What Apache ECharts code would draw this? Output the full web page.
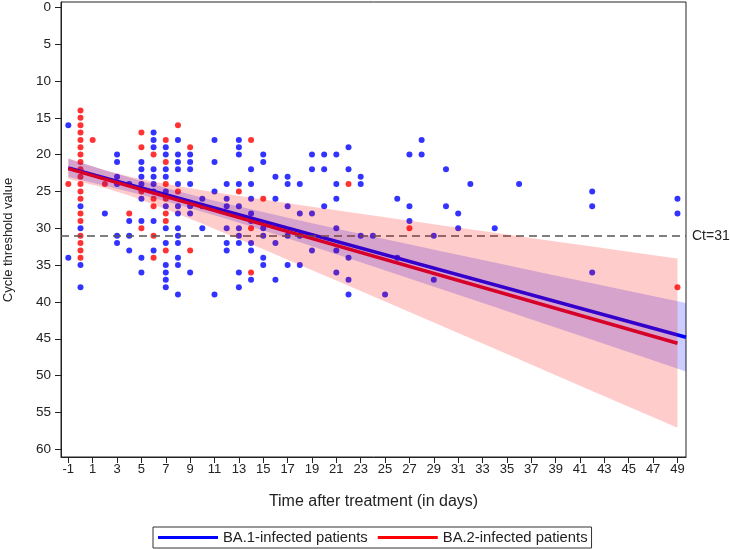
<!DOCTYPE html>
<html><head><meta charset="utf-8">
<script src="https://cdn.jsdelivr.net/npm/echarts@6/dist/echarts.min.js"></script>
<style>html,body{margin:0;padding:0;background:#fff}#c{width:730px;height:549px}</style>
</head><body><div id="c"></div>
<script>
// ---- data ----
const xTicks = [-1,1,3,5,7,9,11,13,15,17,19,21,23,25,27,29,31,33,35,37,39,41,43,45,47,49];
const yTicks = [0,5,10,15,20,25,30,35,40,45,50,55,60];
const ctThreshold = 31;

// [day, [Ct values]]
const ba1ByDay = [
  [-1,[16,34]],[0,[27,30,35,38]],[2,[28]],[3,[20,21,23,24,31,32]],[4,[24,29,31,33]],
  [5,[21,22,23,24,26,29,34,36]],[6,[17,18,19,22,23,24,25,29,33]],
  [7,[19,20,22,23,25,27,30,32,35,36,37,38]],[8,[18,20,21,22,24,27,28,30,31,32,34,35,39]],
  [9,[20,21,22,24,27,28,36]],[10,[26,27,30]],[11,[18,21,25,39]],[12,[24,26,27,30,32,33]],
  [13,[18,19,20,24,27,30,31,32,36,38]],[14,[22,24,26,28,29,32,33,37]],[15,[20,21,30,31,34,35]],
  [16,[23,26,32,37]],[17,[23,24,27,31,35]],[18,[24,28,31,35]],[19,[20,22,28,33]],[20,[20,22,27]],
  [21,[20,24,26,30,33,36]],[22,[19,22,34,37,39]],[23,[23,24,31]],[24,[31]],[25,[39]],[26,[26,34]],
  [27,[20,27,29]],[28,[18,20]],[29,[31,37]],[30,[22,27]],[31,[28,30]],[32,[24]],[34,[30]],
  [36,[24]],[42,[25,27,36]],[49,[26,28]]
];
const ba2ByDay = [
  [-1,[24]],[0,[14,15,16,17,18,19,20,21,22,23,24,25,26,28,29,31,32,33,34]],[1,[18]],[2,[24]],
  [4,[28]],[5,[17,19,25,30]],[6,[20,26,27,31,34]],[7,[18,21,24,26,28,29,33]],[8,[16,25]],
  [9,[19,33]],[13,[25]],[14,[18,30,36]],[15,[26]],[22,[24]],[27,[30]],[49,[38]]
];

// fitted regression lines [day, Ct]
const ba1Fit = [[-1,21.80],[49.7,44.79]];
const ba2Fit = [[-1,21.90],[49,45.60]];

// confidence bands [day, lower, upper]
const ba1Band = [
  [-1,20.56,23.04],[2,22.11,24.21],[5,23.59,25.44],[8,24.97,26.79],[11,26.25,28.24],
  [14,27.43,29.77],[18,28.93,31.89],[22,30.39,34.07],[26,31.82,36.26],[30,33.24,38.47],
  [34,34.65,40.69],[38,36.06,42.92],[42,37.46,45.14],[46,38.86,47.38],[49.7,40.14,49.44]
];
const ba2Band = [
  [-1,20.50,23.30],[0,21.08,23.67],[2,22.12,24.52],[4,22.97,25.56],[6,23.67,26.76],
  [8,24.27,28.05],[10,24.83,29.40],[12,25.35,30.77],[15,26.10,32.86],[18,26.83,34.97],
  [21,27.55,37.09],[24,28.27,39.23],[27,28.98,41.37],[30,29.68,43.50],[33,30.38,45.64],
  [36,31.08,47.78],[39,31.79,49.94],[42,32.48,52.08],[45,33.18,54.22],[49,34.11,57.09]
];

// ---- build ----
function flatten(byDay){ const out=[]; byDay.forEach(([d,vals])=>vals.forEach(v=>out.push([d,v]))); return out; }
const FONT = "Arial, 'Liberation Sans', sans-serif";
const TXT = '#222';

function bandSeries(id, band, fill, z){
  return {
    type:'custom', id:id, z:z, silent:true, data:band,
    encode:{x:0, y:[1,2]},
    renderItem:function(params, api){
      if (params.dataIndex !== 0) return null;
      const up = band.map(d=>api.coord([d[0], d[2]]));
      const lo = band.slice().reverse().map(d=>api.coord([d[0], d[1]]));
      return {type:'polygon', shape:{points:up.concat(lo)}, style:{fill:fill}};
    }
  };
}

const chart = echarts.init(document.getElementById('c'), null, {renderer:'canvas'});
chart.setOption({
  animation:false,
  backgroundColor:'#fff',
  textStyle:{fontFamily:FONT},
  grid:{left:61, right:44, top:2, bottom:92, containLabel:false, outerBoundsMode:'none',
    show:true, borderColor:'#222', borderWidth:1, backgroundColor:'transparent'},
  graphic:[{
    type:'text', x:8, y:240, rotation:Math.PI/2, silent:true,
    style:{text:'Cycle threshold value', fontSize:13, fill:TXT, fontFamily:FONT, align:'center', verticalAlign:'middle'}
  }],
  legend:{
    left:153, top:527, orient:'horizontal', selectedMode:false,
    data:['BA.1-infected patients','BA.2-infected patients'],
    icon:'rect', itemWidth:60, itemHeight:3, itemGap:10,
    borderColor:'#333', borderWidth:1, padding:[3,4,3,5],
    textStyle:{fontSize:14.8, color:TXT, fontFamily:FONT}
  },
  xAxis:{
    type:'value', min:-1.6, max:49.7,
    name:'Time after treatment (in days)', nameLocation:'middle', nameGap:37,
    nameTextStyle:{fontSize:16, color:TXT, fontFamily:FONT},
    axisLine:{show:true, onZero:false, lineStyle:{color:'#222', width:1}},
    axisTick:{show:true, customValues:xTicks, length:6, lineStyle:{color:'#222'}},
    axisLabel:{customValues:xTicks, fontSize:13, color:TXT, margin:6, fontFamily:FONT},
    splitLine:{show:false}
  },
  yAxis:{
    type:'value', inverse:true, min:-0.72, max:61.05,
    axisLine:{show:true, onZero:false, lineStyle:{color:'#222', width:1}},
    axisTick:{show:true, customValues:yTicks, length:6, lineStyle:{color:'#222'}},
    axisLabel:{customValues:yTicks, fontSize:13.5, color:TXT, margin:10, fontFamily:FONT},
    splitLine:{show:false}
  },
  series:[
    {type:'scatter', name:'BA.1 points', data:flatten(ba1ByDay), symbolSize:6,
      itemStyle:{color:'#0000ff'}, z:2, silent:true},
    {type:'scatter', name:'BA.2 points', data:flatten(ba2ByDay), symbolSize:6,
      itemStyle:{color:'#ff0000'}, z:2, silent:true},
    {type:'line', name:'BA.1-infected patients', data:ba1Fit, showSymbol:false, symbol:'none',
      lineStyle:{color:'#0000ff', width:3.5}, itemStyle:{color:'#0000ff'}, z:3, silent:true},
    {type:'line', name:'BA.2-infected patients', data:ba2Fit, showSymbol:false, symbol:'none',
      lineStyle:{color:'#ff0000', width:3.5}, itemStyle:{color:'#ff0000'}, z:3, silent:true},
    {type:'line', name:'ct', data:[], z:3, silent:true,
      markLine:{silent:true, symbol:['none','none'], animation:false,
        lineStyle:{type:[8,5], color:'#555', width:1.6},
        label:{show:true, position:'end', formatter:'Ct=' + ctThreshold, fontSize:14, color:TXT, distance:6, fontFamily:FONT},
        data:[{yAxis:ctThreshold}]}},
    bandSeries('ba1band', ba1Band, 'rgba(0,0,255,0.2)', 4),
    bandSeries('ba2band', ba2Band, 'rgba(255,0,0,0.2)', 5)
  ]
});
</script>
</body></html>
